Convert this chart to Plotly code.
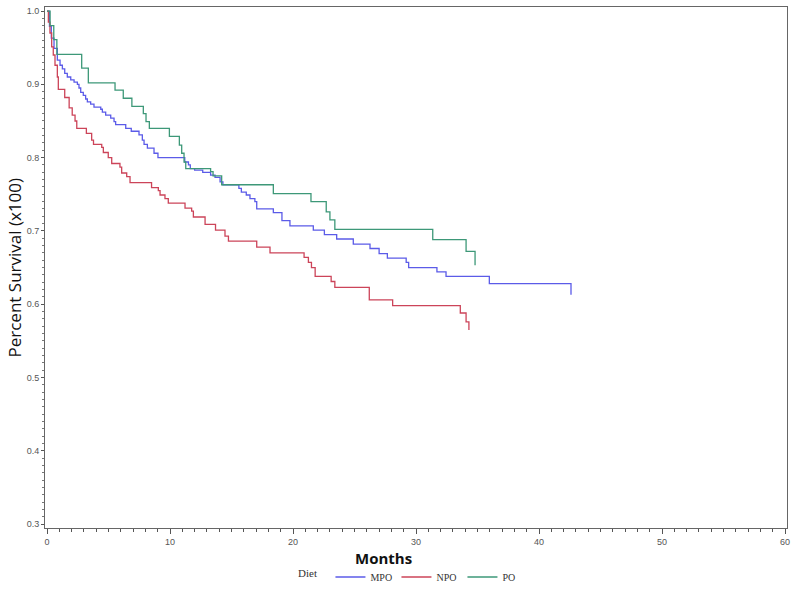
import plotly.graph_objects as go

# Kaplan-Meier step data: time of each drop (months) and survival after the drop
mpo_t = [0, 0.2, 0.35, 0.57, 0.84, 1.06, 1.25, 1.44, 1.65, 1.93, 2.2, 2.47, 2.6, 2.74, 2.95,
         3.14, 3.28, 3.55, 3.82, 4.37, 4.5, 4.77, 5.18, 5.45, 5.58, 6.4, 6.85, 7.48, 7.75,
         7.89, 8.16, 8.7, 9.02, 11.2, 11.5, 11.65, 12.0, 12.66, 13.3, 13.66, 14.07, 14.3,
         15.6, 15.8, 16.2, 16.5, 16.9, 17.05, 18.4, 19.1, 19.75, 21.65, 22.55, 23.55, 24.9,
         26.26, 27.0, 27.67, 29.2, 29.4, 31.7, 32.44, 35.96, 42.6]
mpo_s = [1.0, 0.979, 0.963, 0.949, 0.933, 0.926, 0.921, 0.915, 0.910, 0.906, 0.903, 0.900,
         0.895, 0.889, 0.885, 0.880, 0.876, 0.873, 0.869, 0.866, 0.862, 0.858, 0.854, 0.849,
         0.845, 0.840, 0.836, 0.831, 0.824, 0.818, 0.813, 0.806, 0.800, 0.794, 0.790, 0.785,
         0.783, 0.780, 0.776, 0.773, 0.767, 0.763, 0.758, 0.753, 0.749, 0.744, 0.740, 0.730,
         0.725, 0.714, 0.707, 0.701, 0.695, 0.689, 0.682, 0.676, 0.669, 0.663, 0.657, 0.650,
         0.644, 0.638, 0.628, 0.613]

npo_t = [0, 0.11, 0.24, 0.38, 0.51, 0.65, 0.84, 0.92, 1.44, 1.8, 2.05, 2.28, 2.42, 3.2, 3.63,
         3.78, 4.45, 4.58, 4.98, 5.26, 5.93, 6.07, 6.48, 6.75, 8.5, 9.05, 9.19, 9.59, 9.86,
         11.22, 11.76, 11.9, 12.85, 13.7, 14.47, 14.75, 17.05, 18.13, 20.9, 21.25, 21.5,
         21.8, 23.1, 23.4, 26.2, 28.1, 33.6, 34.07, 34.3]
npo_s = [1.0, 0.985, 0.970, 0.951, 0.940, 0.926, 0.910, 0.893, 0.882, 0.868, 0.858, 0.850,
         0.840, 0.833, 0.824, 0.818, 0.814, 0.807, 0.800, 0.792, 0.787, 0.779, 0.774, 0.766,
         0.759, 0.755, 0.749, 0.744, 0.738, 0.731, 0.727, 0.719, 0.709, 0.701, 0.693, 0.686,
         0.678, 0.670, 0.664, 0.657, 0.650, 0.638, 0.631, 0.623, 0.606, 0.598, 0.588, 0.576,
         0.565]

po_t = [0, 0.25, 0.55, 0.8, 2.82, 3.36, 5.53, 6.2, 6.9, 7.83, 8.05, 8.32, 9.95, 10.76, 10.95,
        11.14, 11.28, 13.3, 13.5, 14.2, 18.4, 21.46, 22.7, 23.0, 23.4, 31.36, 34.07, 34.8]
po_s = [1.0, 0.980, 0.961, 0.941, 0.922, 0.902, 0.892, 0.881, 0.870, 0.860, 0.849, 0.840,
        0.829, 0.817, 0.806, 0.794, 0.785, 0.781, 0.775, 0.763, 0.751, 0.740, 0.726, 0.715,
        0.702, 0.688, 0.672, 0.653]

series = [("MPO", mpo_t, mpo_s, "#5b5be8"),
          ("NPO", npo_t, npo_s, "#cc4459"),
          ("PO", po_t, po_s, "#3d9878")]

fig = go.Figure()
for name, t, s, col in series:
    fig.add_trace(go.Scatter(x=t, y=s, mode="lines", name=name,
                             line=dict(color=col, width=1.3, shape="hv")))

axis_common = dict(showline=True, linecolor="#666", linewidth=1, mirror=True,
                   showgrid=False, zeroline=False, ticks="outside", tickcolor="#555",
                   automargin=False,
                   tickfont=dict(family="Liberation Sans, Arial", size=9, color="#555"))

fig.update_xaxes(range=[-0.163, 60.16], tickvals=[0, 10, 20, 30, 40, 50, 60], ticklen=5,
                 minor=dict(dtick=1, ticks="outside", ticklen=3, tickcolor="#555"),
                 **axis_common)
fig.update_yaxes(range=[0.2947, 1.0055], tickvals=[0.3, 0.4, 0.5, 0.6, 0.7, 0.8, 0.9, 1.0],
                 ticktext=["0.3", "0.4", "0.5", "0.6", "0.7", "0.8", "0.9", "1.0"], ticklen=3,
                 minor=dict(dtick=0.01, ticks="outside", ticklen=2, tickcolor="#777"),
                 **axis_common)

fig.update_layout(
    width=800, height=593,
    margin=dict(l=45, r=13, t=7, b=65, autoexpand=False),
    paper_bgcolor="white", plot_bgcolor="white",
    showlegend=True,
    legend=dict(orientation="h", xref="container", yref="container",
                x=296 / 800, xanchor="left", y=1 - 577 / 593, yanchor="middle",
                title=dict(text="Diet  ", font=dict(family="Liberation Serif, Times New Roman",
                                                    size=11, color="#333")),
                font=dict(family="Liberation Serif, Times New Roman", size=10, color="#333"),
                entrywidth=21, entrywidthmode="pixels",
                itemwidth=30, tracegroupgap=0, bgcolor="rgba(0,0,0,0)"),
    annotations=[
        dict(text="Percent Survival (x100)", xref="paper", yref="paper", x=(14 - 45) / 742,
             y=0.5, xanchor="center", yanchor="middle", textangle=-90, showarrow=False,
             font=dict(family="Open Sans, Liberation Sans", size=17, color="#111")),
        dict(text="<b>Months</b>", xref="paper", yref="paper", x=(383 - 45) / 742,
             y=-(558 - 528) / 521, xanchor="center", yanchor="middle", showarrow=False,
             font=dict(family="Open Sans, Liberation Sans", size=15, color="#111")),
    ],
)

fig.write_html("out.html", config={"displayModeBar": False},
               post_script="document.body.style.margin='0';")
